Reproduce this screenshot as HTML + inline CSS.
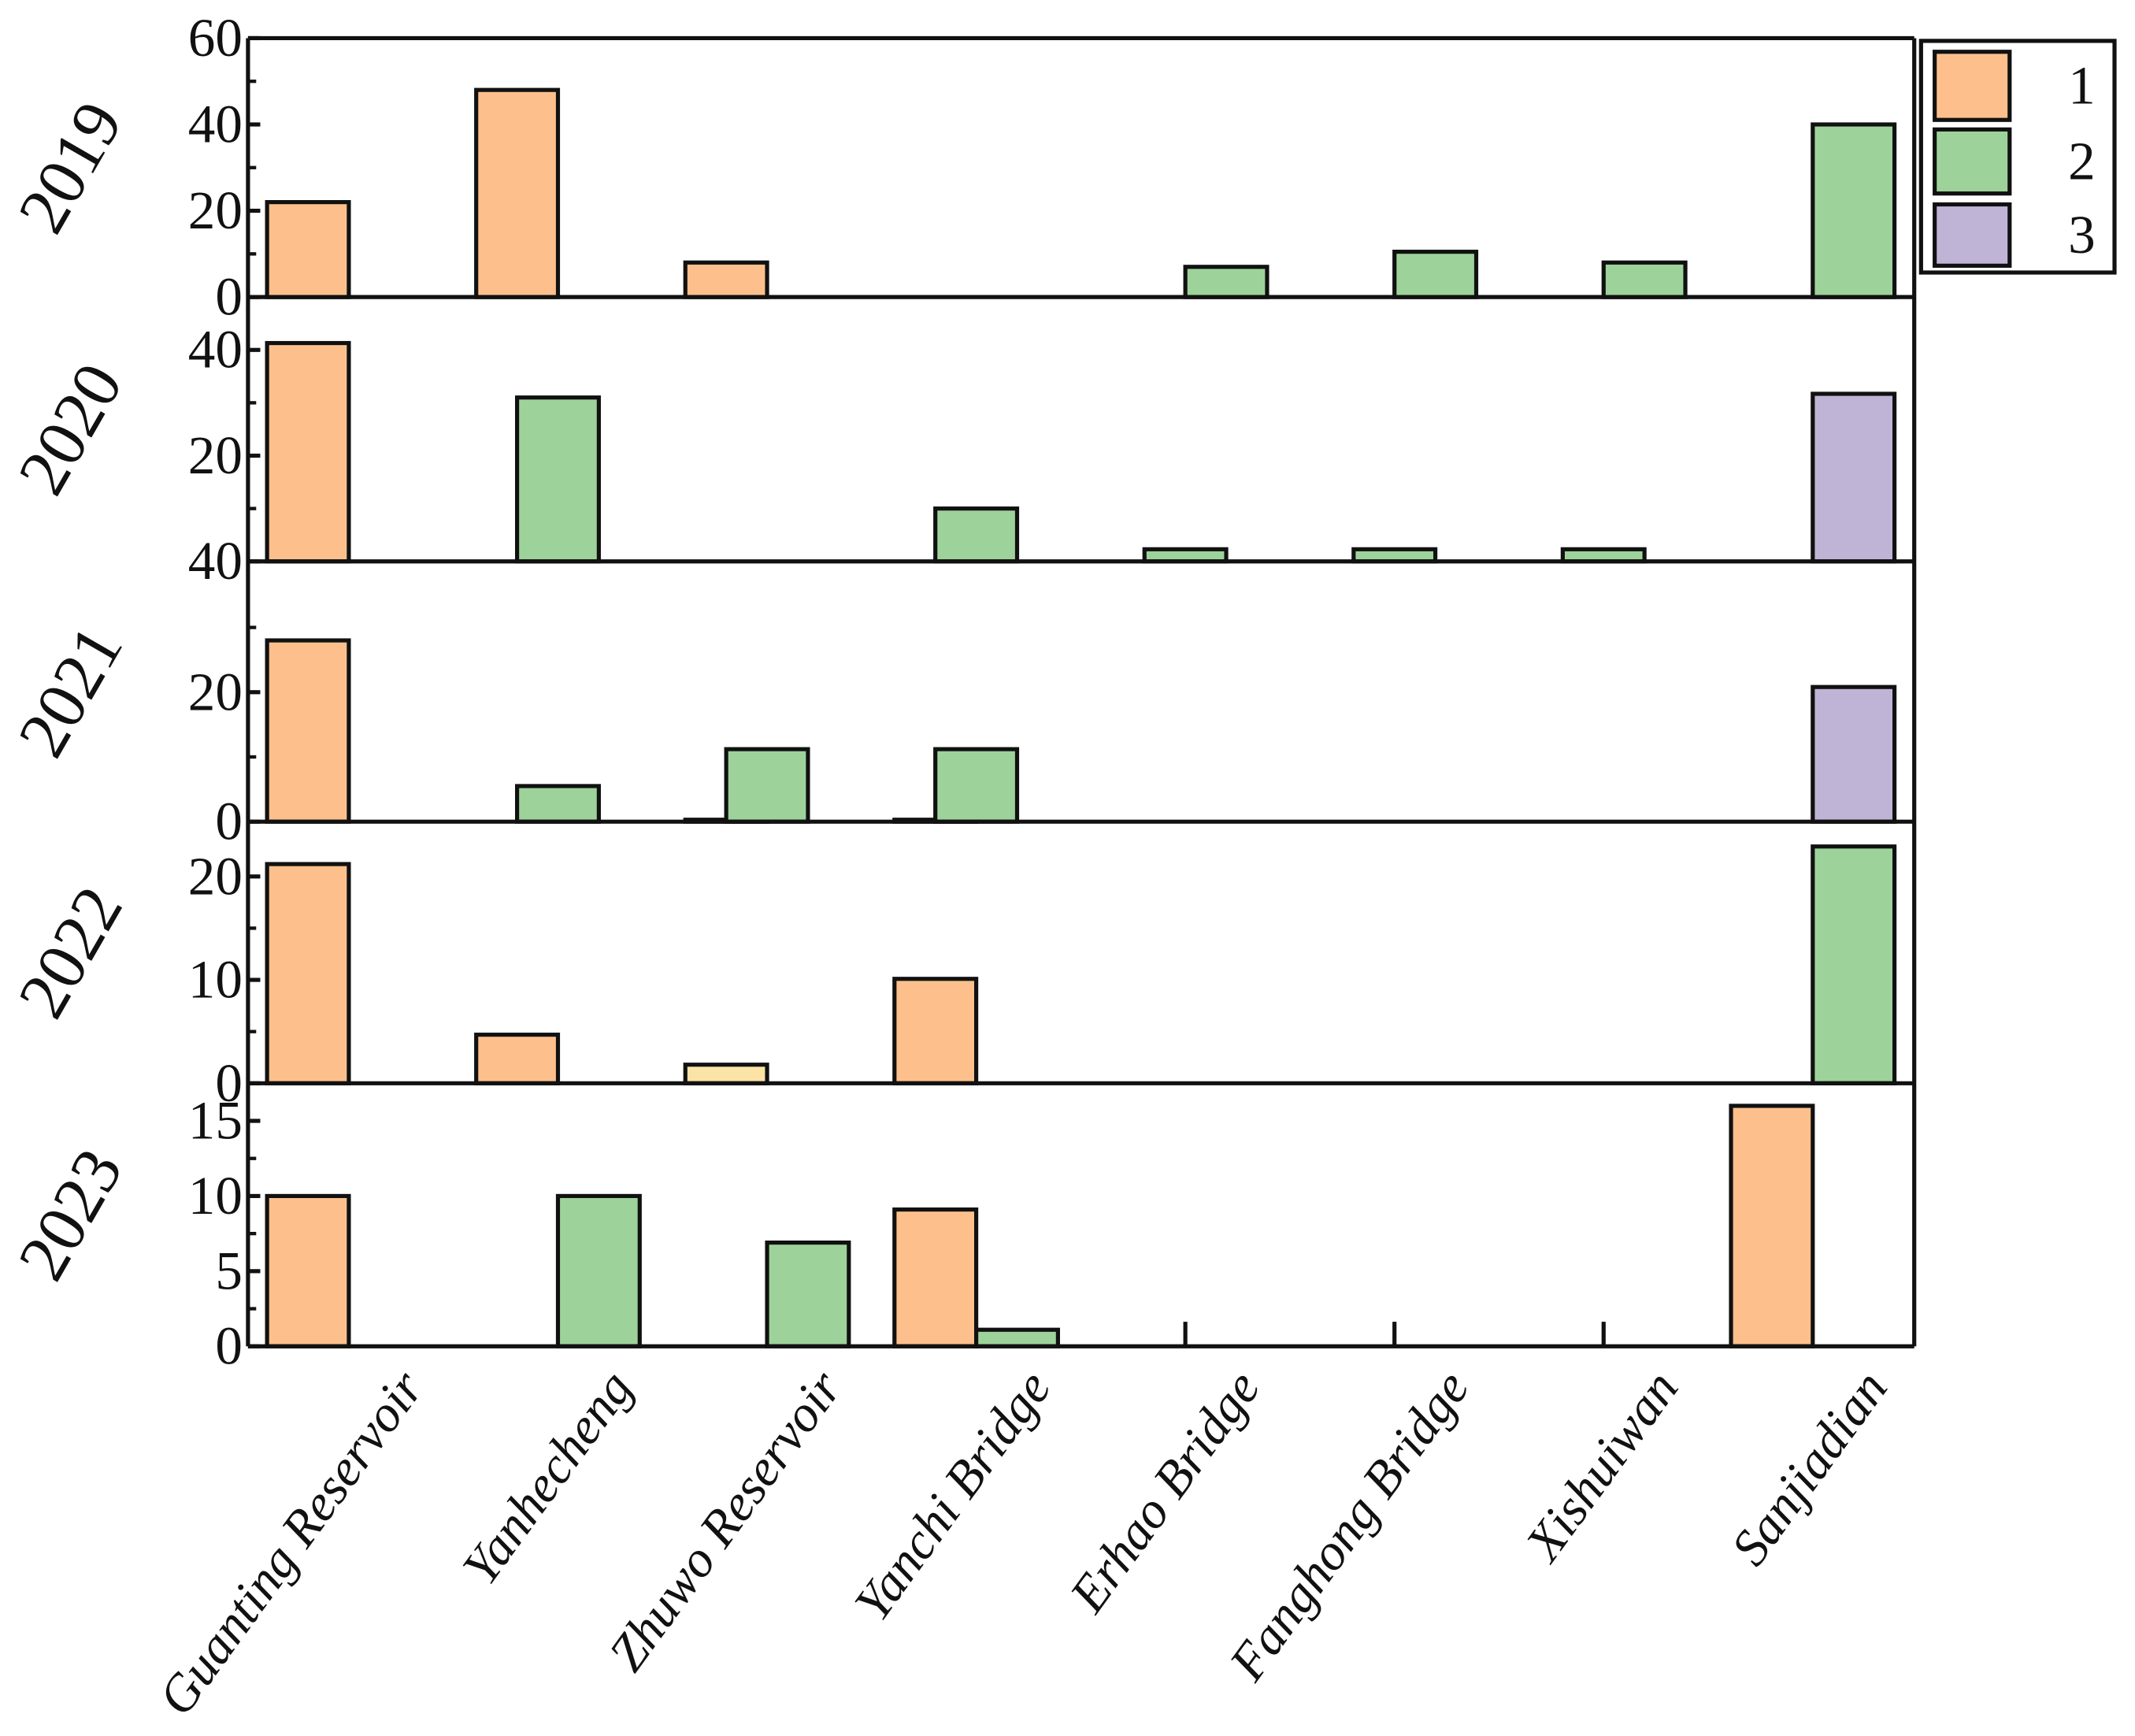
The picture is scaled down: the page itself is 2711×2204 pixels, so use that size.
<!DOCTYPE html>
<html><head><meta charset="utf-8">
<style>
html,body{margin:0;padding:0;background:#fff;}
svg{display:block;}
text{font-family:"Liberation Serif","Times New Roman",serif;fill:#111;}
</style></head>
<body>
<svg id="chart" width="2711" height="2204" viewBox="0 0 1567 1274" xmlns="http://www.w3.org/2000/svg"></svg>
<script>
const categories = ["Guanting Reservoir","Yanhecheng","Zhuwo Reservoir","Yanchi Bridge","Erhao Bridge","Fanghong Bridge","Xishuiwan","Sanjiadian"];
const years = ["2019","2020","2021","2022","2023"];
// bars per year: [categoryIndex, series, value, slot]
const bars2019 = [[0,1,22,-0.5],[1,1,48,-0.5],[2,1,8,-0.5],[4,2,7,0.5],[5,2,10.5,0.5],[6,2,8,0.5],[7,2,40,0.5]];
const bars2020 = [[0,1,41.3,-0.5],[1,2,31,0],[3,2,10,0],[4,2,2.3,0],[5,2,2.3,0],[6,2,2.3,0],[7,3,31.7,0.5]];
const bars2021 = [[0,1,28,-0.5],[1,2,5.5,0],[2,1,0.3,-0.5],[2,2,11.2,0],[3,1,0.3,-0.5],[3,2,11.2,0],[7,3,20.8,0.5]];
const bars2022 = [[0,1,21.2,-0.5],[1,1,4.7,-0.5],[2,4,1.8,-0.5],[3,1,10.1,-0.5],[7,2,22.9,0.5]];
const bars2023 = [[0,1,10,-0.5],[1,2,10,0.5],[2,2,6.9,0.5],[3,1,9.1,-0.5],[3,2,1.1,0.5],[7,1,16,-0.5]];
const yMax = [60,50,40.2,25.3,17.5];
const majorTicks2019 = [0,20,40,60];
const majorTicks2020 = [0,20,40];
const majorTicks2021 = [0,20];
const majorTicks2022 = [0,10,20];
const majorTicks2023 = [0,5,10,15];
const tickLabels2020 = ["40","20","40"];
const minorTicks2019 = [10,30,50];
const minorTicks2020 = [10,30];
const minorTicks2021 = [10,30];
const minorTicks2022 = [5,15];
const minorTicks2023 = [2.5,7.5,12.5];
const legendLabels = ["1","2","3"];

const colors = {1:"#FDC08C",2:"#9DD39A",3:"#C0B4D6",4:"#FBE3A6"};
const allBars=[bars2019,bars2020,bars2021,bars2022,bars2023];
const allMajor=[majorTicks2019,majorTicks2020,majorTicks2021,majorTicks2022,majorTicks2023];
const allMinor=[minorTicks2019,minorTicks2020,minorTicks2021,minorTicks2022,minorTicks2023];
const panelTop=[28,218,412,603,795];
const panelBottom=[218,412,603,795,988];
const axisX=182, rightX=1405, cat0=256, catStep=153.5, barW=60;
const svg=document.getElementById('chart');
const NS="http://www.w3.org/2000/svg";
function mk(tag,attrs,parent){const e=document.createElementNS(NS,tag);for(const k in attrs)e.setAttribute(k,attrs[k]);(parent||svg).appendChild(e);return e;}
function xCat(i){return cat0+i*catStep;}

years.forEach((yr,p)=>{
  const g=mk('g',{});
  
  
  const top=panelTop[p], bot=panelBottom[p];
  const yS=v=>bot-(v/yMax[p])*(bot-top);
  allBars[p].forEach(b=>{
    const [ci,s,v,slot]=b;
    const cx=xCat(ci)+slot*barW;
    const r=mk('rect',{x:cx-barW/2,y:yS(v),width:barW,height:bot-yS(v),fill:colors[s],stroke:"#111","stroke-width":3},g);
    
    
  });
  allMajor[p].forEach((t,i)=>{
    const y=yS(t);
    mk('line',{x1:axisX,x2:axisX+9,y1:y,y2:y,stroke:"#111","stroke-width":3},g);
    const lbl=(p===1)?tickLabels2020[i]:String(t);
    const tx=mk('text',{x:axisX-4,y:y+13,"text-anchor":"end","font-size":40},g);
    tx.textContent=lbl;
    
    
  });
  allMinor[p].forEach(t=>{const y=yS(t);mk('line',{x1:axisX,x2:axisX+6,y1:y,y2:y,stroke:"#111","stroke-width":2.5},g);});
  mk('line',{x1:axisX,x2:rightX,y1:bot,y2:bot,stroke:"#111","stroke-width":3},g);
  const cy=(top+bot)/2;
  const yt=mk('text',{x:0,y:0,"text-anchor":"middle","font-size":50,transform:`translate(${66},${cy+8}) rotate(-60)`},g);
  yt.textContent=yr;
  
  
});
mk('line',{x1:axisX,x2:rightX,y1:28,y2:28,stroke:"#111","stroke-width":3});
mk('line',{x1:axisX,x2:axisX,y1:28,y2:988,stroke:"#111","stroke-width":3});
mk('line',{x1:rightX,x2:rightX,y1:28,y2:988,stroke:"#111","stroke-width":3});
[4,5,6].forEach(i=>mk('line',{x1:xCat(i),x2:xCat(i),y1:988,y2:970,stroke:"#111","stroke-width":3}));
categories.forEach((c,i)=>{
  const t=mk('text',{x:0,y:0,"text-anchor":"end","font-size":38,"font-style":"italic",transform:`translate(${xCat(i)+56},${1018}) rotate(-54)`});
  t.textContent=c;
  
  
});
const lg=mk('g',{});


mk('rect',{x:1410,y:30,width:142,height:170,fill:"#fff",stroke:"#111","stroke-width":3},lg);
const swY=[38,95,150], swH=[50,47,45];
legendLabels.forEach((l,i)=>{
  const r=mk('rect',{x:1420,y:swY[i],width:55,height:swH[i],fill:colors[i+1],stroke:"#111","stroke-width":3},lg);
  
  
  const t=mk('text',{x:1528,y:swY[i]+swH[i]/2+13,"text-anchor":"middle","font-size":40},lg);
  t.textContent=l;
  
  
});
</script>
</body></html>
